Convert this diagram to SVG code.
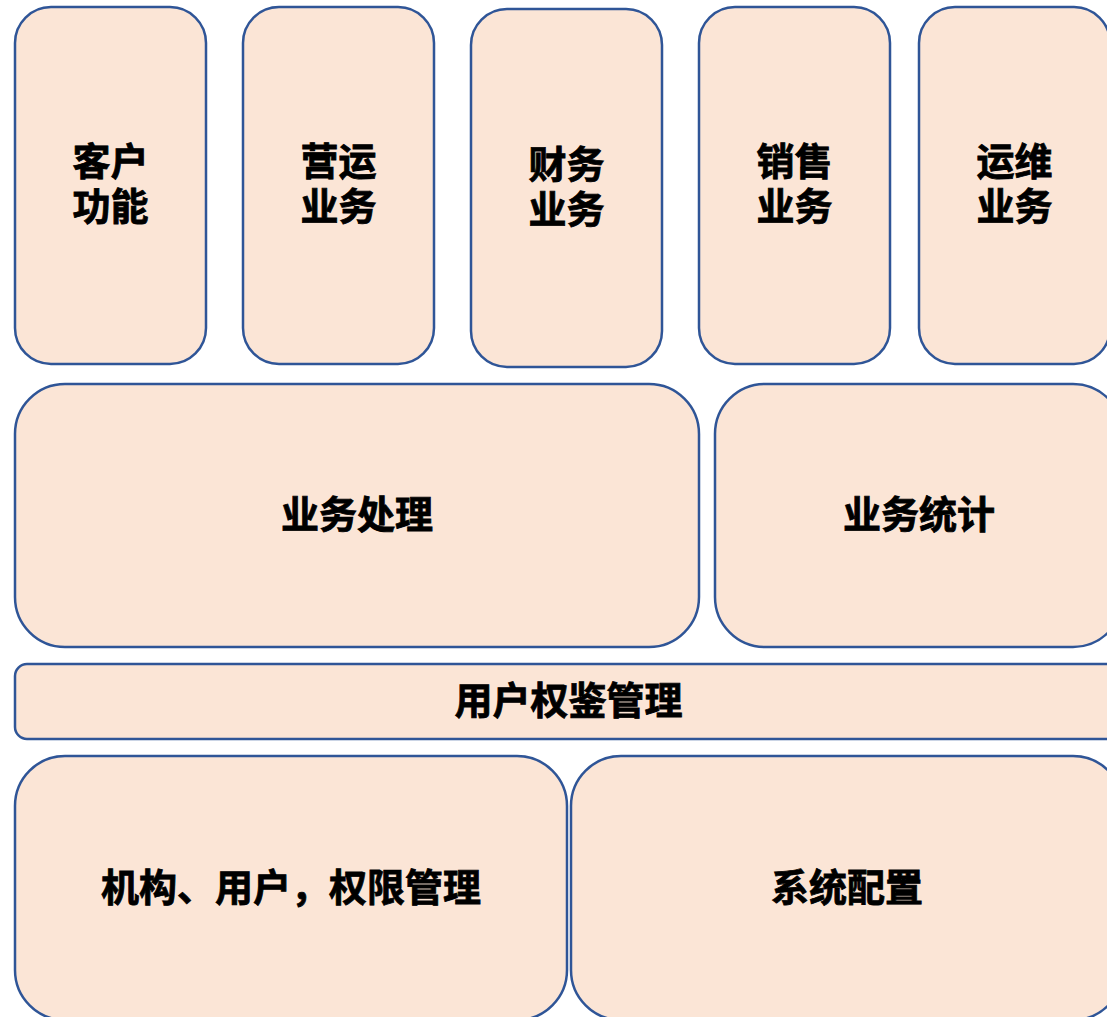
<svg xmlns="http://www.w3.org/2000/svg" width="1107" height="1017" viewBox="0 0 1107 1017">
<style>
.box{fill:#fbe5d6;stroke:#2f5597;stroke-width:2.5}
.t{font-family:"Liberation Sans","Noto Sans CJK SC",sans-serif;font-weight:bold;font-size:38px;fill:#000;stroke:#000;stroke-width:0.8;text-anchor:middle;dominant-baseline:central}
</style>
<rect width="1107" height="1017" fill="#fff"/>
<g id="n1"><rect class="box" x="15" y="7" width="191" height="357" rx="36"/><text class="t" x="110.5" y="162">客户</text><text class="t" x="110.5" y="207">功能</text></g>
<g id="n2"><rect class="box" x="243" y="7" width="191" height="357" rx="36"/><text class="t" x="338.5" y="162">营运</text><text class="t" x="338.5" y="207">业务</text></g>
<g id="n3"><rect class="box" x="471" y="9" width="191" height="358" rx="36"/><text class="t" x="566.5" y="165">财务</text><text class="t" x="566.5" y="210">业务</text></g>
<g id="n4"><rect class="box" x="699" y="7" width="191" height="357" rx="36"/><text class="t" x="794.5" y="162">销售</text><text class="t" x="794.5" y="207">业务</text></g>
<g id="n5"><rect class="box" x="919" y="7" width="191" height="357" rx="36"/><text class="t" x="1014.5" y="162">运维</text><text class="t" x="1014.5" y="207">业务</text></g>
<g id="n6"><rect class="box" x="15" y="384" width="684" height="263" rx="50"/><text class="t" x="357" y="515">业务处理</text></g>
<g id="n7"><rect class="box" x="715" y="384" width="408" height="263" rx="50"/><text class="t" x="919" y="515">业务统计</text></g>
<g id="n8"><rect class="box" x="15" y="664" width="1107" height="75" rx="12"/><text class="t" x="568.5" y="701">用户权鉴管理</text></g>
<g id="n9"><rect class="box" x="15" y="756" width="552" height="264" rx="50"/><text class="t" x="291" y="888">机构、用户，权限管理</text></g>
<g id="n10"><rect class="box" x="571" y="756" width="552" height="264" rx="50"/><text class="t" x="847" y="888">系统配置</text></g>
<g id="connectors"></g>
</svg>
